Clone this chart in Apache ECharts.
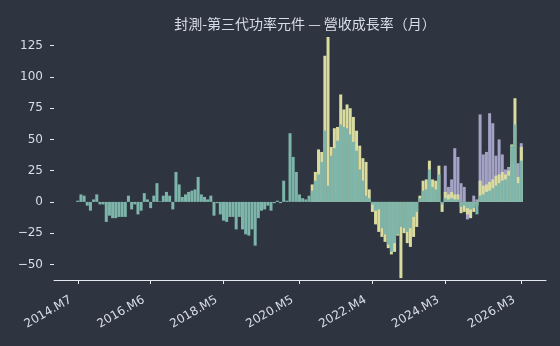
<!DOCTYPE html>
<html>
<head>
<meta charset="utf-8">
<script src="https://cdn.jsdelivr.net/npm/echarts@6/dist/echarts.min.js"></script>
<style>
  html, body { margin: 0; background: #2e3440; }
  #main { width: 560px; height: 346px; }
</style>
</head>
<body>
<div id="main"></div>
<script>
// x = 月份序號 + 7.5 (0 = 2014.M7 前 7.5 個月, 剛好是 grid 左緣)
var xOffset = 7.5;
var tickMonths = [0, 23, 46, 70, 93, 116, 140];
var tickLabels = ['2014.M7', '2016.M6', '2018.M5', '2020.M5', '2022.M4', '2024.M3', '2026.M3'];
var yTicks = [-50, -25, 0, 25, 50, 75, 100, 125];

// 三條序列 (疊在同一位置)
var tealStart = 0;
var teal = [
  1, 6, 5, -3, -7, 2, 6, -2, -2, -16,
  -11, -13, -13, -12, -12, -12, 5, -6, -2, -10,
  -7, 7, 2, -5, 5, 15, 0.5, 5, 8, 5,
  -6, 24, 14, 4, 6, 8, 9, 10, 20, 6,
  4, 2, 5, -11, -1, -10, -15, -16, -12, -12,
  -22, -12, -22, -26, -27, -22, -35, -13, -7, -6,
  -3, -7, -1, 1, -1, 17, 1, 55, 36, 24,
  6, 3, 2, 5, 9, 17, 22, 32, 57, 13,
  37, 43, 49, 62, 60, 59, 54, 48, 41, 26,
  17, 5, 3, -2, -7, -6, -21, -26, -34, -40,
  -33, -26, -20, -21, -24, -21, -12, -8, 3, 9,
  10, 26, 12, 10, 22, -2, 3, 2, 3, 2,
  2, -4, -3, -5, -6, -5, -10, 5, 6, 8,
  9, 11, 13, 15, 17, 18, 21, 45, 62, 15, 33
];
var yellowStart = 74;
var yellow = [
  14, 24, 42, 40, 117, 132,
  44, 59, 60, 86, 74, 78, 75, 68, 57, 45,
  35, 32, 10, -8, -18, -24, -28, -32, -37, -42,
  -40, -27, -61, -25, -33, -36, -28, -20, 5, 17,
  18, 33, 18, 17, 29, -8, 8, 6, 8, 6,
  6, -9, -8, -10, -13, -8, -3, 17, 13, 14,
  16, 18, 21, 22, 24, 22, 25, 46, 83, 20, 44
];
var lavenderStart = 116;
var lavender = [
  29, 12, 18, 43, 36, 15, 12, -14, -12, 5,
  2, 70, 38, 40, 71, 63, 37, 50, 38, 26,
  28, 30, 30, 31, 47
];

function pairs(arr, start) {
  return arr.map(function (v, k) { return [k + start + xOffset, v]; });
}
var tickX = tickMonths.map(function (m) { return m + xOffset; });

var textColor = '#d8dee9';
var font = 'DejaVu Sans';
var barW = 3;

var myChart = echarts.init(document.getElementById('main'));
myChart.setOption({
  backgroundColor: '#2e3440',
  animation: false,
  title: {
    text: '封測-第三代功率元件 — 營收成長率（月）',
    left: 300,
    top: 12,
    textAlign: 'center',
    textStyle: { color: textColor, fontSize: 14, fontWeight: 'normal', fontFamily: 'Noto Sans CJK TC' }
  },
  grid: { left: 54, right: 14, top: 27, bottom: 66 },
  xAxis: {
    type: 'value',
    min: 0,
    max: 155.3,
    splitLine: { show: false },
    axisLine: { show: true, onZero: false, lineStyle: { color: '#e5e9f0', width: 1 } },
    axisTick: { show: true, customValues: tickX, length: 4, lineStyle: { color: '#e5e9f0' } },
    axisLabel: {
      customValues: tickX,
      rotate: 30,
      margin: 15,
      padding: [0, 8, 0, 0],
      color: textColor,
      fontSize: 12,
      fontFamily: font,
      formatter: function (v) {
        var k = tickX.indexOf(v);
        return k >= 0 ? tickLabels[k] : '';
      }
    }
  },
  yAxis: {
    type: 'value',
    min: -62.5,
    max: 140,
    splitLine: { show: false },
    axisLine: { show: false },
    axisTick: { show: true, customValues: yTicks, length: 4, lineStyle: { color: '#e5e9f0', width: 1 } },
    axisLabel: {
      customValues: yTicks,
      margin: 11,
      color: textColor,
      fontSize: 12,
      fontFamily: font,
      formatter: function (v) { return String(v).replace('-', '\u2212'); }
    }
  },
  series: [
    {
      name: 'lavender', type: 'bar', barWidth: barW, barGap: '-100%',
      itemStyle: { color: '#a3a1c4' },
      data: pairs(lavender, lavenderStart)
    },
    {
      name: 'yellow', type: 'bar', barWidth: barW, barGap: '-100%',
      itemStyle: { color: '#d9dc9e' },
      data: pairs(yellow, yellowStart)
    },
    {
      name: 'teal', type: 'bar', barWidth: barW, barGap: '-100%',
      itemStyle: { color: '#7db5aa' },
      data: pairs(teal, tealStart)
    }
  ]
});
</script>
</body>
</html>
